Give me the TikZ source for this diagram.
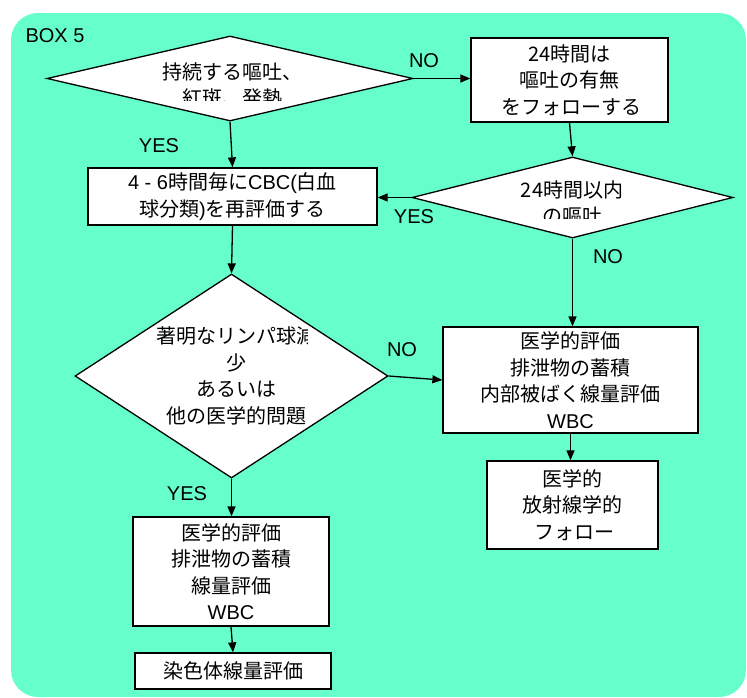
\documentclass[tikz,border=0pt]{standalone}
\usepackage{fontspec}
\setmainfont{Liberation Sans}
\newfontfamily\jp{Noto Sans CJK JP}
\usetikzlibrary{shapes.geometric,arrows.meta}
\definecolor{bgc}{HTML}{66FFCC}
\tikzset{
  box/.style={draw=black,line width=1.3pt,fill=white,inner sep=0pt,align=center,
    font=\fontsize{20}{26.5}\selectfont},
  dia/.style={diamond,draw=black,line width=1.3pt,fill=white,inner sep=0pt},
  dtext/.style={align=center,inner sep=0pt,font=\fontsize{20}{26.5}\selectfont},
  lbl/.style={inner sep=0pt,font=\fontsize{20}{24}\selectfont},
  arr/.style={line width=1.3pt,-{Triangle[length=10pt,width=8pt]}}
}
\begin{document}
\begin{tikzpicture}[x=1pt,y=-1pt]
\useasboundingbox (0,0) rectangle (747,697);
\fill[bgc,rounded corners=27pt] (11,13) rectangle (746,697);
\node[lbl] (boxlbl) at (55,36) {BOX 5};
% diamonds
\node[dia,minimum width=366pt,minimum height=85pt] (d1) at (230,78.5) {};
\begin{scope}
\clip (100,55) rectangle (380,100);
\node[dtext] (t1) at (232,85) {\jp 持続する嘔吐、\\\jp 紅斑、発熱};
\end{scope}
\node[dia,minimum width=321pt,minimum height=81pt] (d2) at (572.5,197.5) {};
\begin{scope}
\clip (450,170) rectangle (700,218);
\node[dtext] (t2) at (572,203) {\jp 24時間以内\\\jp の嘔吐};
\end{scope}
\node[dia,minimum width=313pt,minimum height=204pt] (d3) at (231.5,376) {};
\begin{scope}
\clip (140,320) rectangle (307,430);
\node[dtext] (t3) at (236,376) {\jp 著明なリンパ球減\\\jp 少\\\jp あるいは\\\jp 他の医学的問題};
\end{scope}
% boxes
\node[box,minimum width=197pt,minimum height=84pt] (b2) at (569.5,80) {\jp 24時間は\\\jp 嘔吐の有無\\\jp\ をフォローする};
\node[box,minimum width=289pt,minimum height=57pt] (cbc) at (232.5,196.5) {4 - 6{\jp 時間毎に}CBC({\jp 白血}\\{\jp 球分類})\jp を再評価する};
\node[box,minimum width=255pt,minimum height=106pt] (b4) at (570.5,380) {\jp 医学的評価\\\jp 排泄物の蓄積\\\jp 内部被ばく線量評価\\WBC};
\node[box,minimum width=171pt,minimum height=88pt] (b5) at (572.5,505) {\jp 医学的\\\jp 放射線学的\\\jp\ フォロー};
\node[box,minimum width=196pt,minimum height=109pt] (b6) at (231,571.5) {\jp 医学的評価\\\jp 排泄物の蓄積\\\jp 線量評価\\WBC};
\node[box,minimum width=196pt,minimum height=36pt] (b7) at (233,671) {\jp 染色体線量評価};
% connectors
\draw[arr] (d1.east) -- (d1.east -| b2.west);
\draw[arr] (b2.south) -- (d2.north);
\draw[arr] (d2.west) -- (d2.west -| cbc.east);
\draw[arr] (d1.south) -- (cbc.north);
\draw[arr] (cbc.south) -- (d3.north);
\draw[arr] (d2.south) -- (d2.south |- b4.north);
\draw[arr] (d3.east) -- (b4.west);
\draw[arr] (b4.south) -- (b4.south |- b5.north);
\draw[arr] (d3.south) -- (d3.south |- b6.north);
\draw[arr] (b6.south) -- (b7.north);
% labels
\node[lbl] (yes1) at (159,146) {YES};
\node[lbl] (no1) at (424,61) {NO};
\node[lbl] (yes2) at (414,217) {YES};
\node[lbl] (no2) at (608,257) {NO};
\node[lbl] (no3) at (402,350) {NO};
\node[lbl] (yes3) at (187,494) {YES};
\end{tikzpicture}
\end{document}
